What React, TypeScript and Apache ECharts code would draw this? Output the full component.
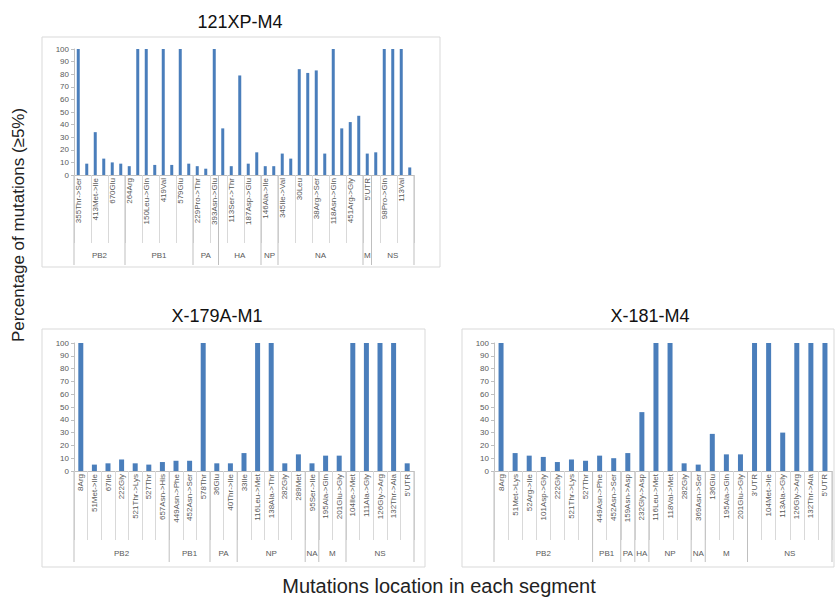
import React, { useEffect, useRef } from "react";
import * as echarts from "echarts";

// ---------- Panel 1: 121XP-M4 ----------
const P1_TITLE = "121XP-M4";
const P1_CATEGORIES = [
  "355Thr->Ser", "398Asp->Glu", "413Met->Ile", "475Leu->Met", "670Glu", "702Lys->Arg",
  "264Arg", "111Ile", "150Leu->Gln", "375Ser->Asn", "419Val", "517Ile", "579Glu", "584Arg->Gln",
  "229Pro->Thr", "237Glu->Lys", "393Asn->Glu",
  "63Asn->Asp", "113Ser->Thr", "156Lys->Glu", "187Asp->Glu", "222Trp->Leu",
  "146Ala->Ile", "482Asn->Ser",
  "345Ile->Val", "10Ser->Pro", "30Leu", "34Thr->Ile", "38Arg->Ser", "95Ser->Asn", "118Asn->Gln", "344Asn->Ser", "451Arg->Gly", "463Lys->Glu",
  "5'UTR",
  "3'UTR", "98Pro->Gln", "104Asp->Glu", "113Val", "171Asn->Asp",
];
const P1_VALUES = [
  100, 9, 34, 13, 10, 9,
  7, 100, 100, 8, 100, 8, 100, 9,
  7, 5, 100,
  37, 7, 79, 9, 18,
  7, 7,
  17, 13, 84, 81, 83, 17, 100, 37, 42, 47,
  17,
  18, 100, 100, 100, 6,
];
const P1_GROUP_NAMES = ["PB2", "PB1", "PA", "HA", "NP", "NA", "M", "NS"];
const P1_GROUP_SIZES = [6, 8, 3, 5, 2, 10, 1, 5];

// ---------- Panel 2: X-179A-M1 ----------
const P2_TITLE = "X-179A-M1";
const P2_CATEGORIES = [
  "8Arg", "51Met->Ile", "67Ile", "222Gly", "521Thr->Lys", "527Thr", "657Asn->His",
  "449Asn->Phe", "452Asn->Ser", "578Thr",
  "36Glu", "40Thr->Ile",
  "33Ile", "116Leu->Met", "138Ala->Thr", "282Gly", "289Met",
  "95Ser->Ile",
  "195Ala->Gln", "201Glu->Gly",
  "104Ile->Met", "111Ala->Gly", "126Gly->Arg", "132Thr->Ala", "5'UTR",
];
const P2_VALUES = [
  100, 5, 6, 9, 6, 5, 7,
  8, 8, 100,
  6, 6,
  14, 100, 100, 6, 13,
  6,
  12, 12,
  100, 100, 100, 100, 6,
];
const P2_GROUP_NAMES = ["PB2", "PB1", "PA", "NP", "NA", "M", "NS"];
const P2_GROUP_SIZES = [7, 3, 2, 5, 1, 2, 5];

// ---------- Panel 3: X-181-M4 ----------
const P3_TITLE = "X-181-M4";
const P3_CATEGORIES = [
  "8Arg", "51Met->Lys", "52Arg->Ile", "101Asp->Gly", "222Gly", "521Thr->Lys", "527Thr",
  "449Asn->Phe", "452Asn->Ser",
  "159Asn->Asp",
  "232Gly->Asp",
  "116Leu->Met", "118Val->Met", "282Gly",
  "369Asn->Ser",
  "136Glu", "195Ala->Gln", "201Glu->Gly",
  "3'UTR", "104Met->Ile", "113Ala->Gly", "126Gly->Arg", "132Thr->Ala", "5'UTR",
];
const P3_VALUES = [
  100, 14, 12, 11, 7, 9, 8,
  12, 10,
  14,
  46,
  100, 100, 6,
  5,
  29, 13, 13,
  100, 100, 30, 100, 100, 100,
];
const P3_GROUP_NAMES = ["PB2", "PB1", "PA", "HA", "NP", "NA", "M", "NS"];
const P3_GROUP_SIZES = [7, 2, 1, 1, 3, 1, 3, 6];

const Y_TITLE = "Percentage of mutations (≥5%)";
const X_TITLE = "Mutations location in each segment";

const FONT = "'Liberation Sans', Arial, sans-serif";
const BAR_COLOR = "#4a7ebb";
const TEXT_COLOR = "#595959";
const LINE_COLOR = "#bfbfbf";

function groupData(names: string[], sizes: number[]) {
  const out: any[] = [];
  let start = 0;
  names.forEach((n, i) => {
    const end = start + sizes[i];
    out.push({ name: n, value: [start, 0, start, end, i === names.length - 1 ? 1 : 0] });
    start = end;
  });
  return out;
}

function groupRenderer(names: string[], lineLen: number, labelOffset: number) {
  return (params: any, api: any) => {
    const start = api.value(2);
    const end = api.value(3);
    const isLast = api.value(4) === 1;
    const bw = api.size([1, 0])[0];
    const p0 = api.coord([start, 0]);
    const p1 = api.coord([end - 1, 0]);
    const xL = p0[0] - bw / 2;
    const xR = p1[0] + bw / 2;
    const y0 = p0[1];
    const children: any[] = [
      {
        type: "line",
        shape: { x1: xL, y1: y0, x2: xL, y2: y0 + lineLen },
        style: { stroke: LINE_COLOR, lineWidth: 1 },
      },
      {
        type: "text",
        style: {
          text: names[params.dataIndex],
          x: (xL + xR) / 2,
          y: y0 + labelOffset,
          align: "center",
          verticalAlign: "middle",
          fontSize: 8,
          fontFamily: FONT,
          fill: TEXT_COLOR,
        },
      },
    ];
    if (isLast) {
      children.push({
        type: "line",
        shape: { x1: xR, y1: y0, x2: xR, y2: y0 + lineLen },
        style: { stroke: LINE_COLOR, lineWidth: 1 },
      });
    }
    return { type: "group", children };
  };
}

export default function App() {
  const ref = useRef<HTMLDivElement>(null);
  useEffect(() => {
    document.body.style.margin = "0";
    if (!ref.current) return;
    const chart = echarts.init(ref.current, undefined, { renderer: "svg" });

    const grids = [
      { left: 74, top: 49, width: 340, height: 126 },
      { left: 74, top: 343, width: 340, height: 128 },
      { left: 494, top: 343, width: 338, height: 128 },
    ];
    const panels = [
      { cats: P1_CATEGORIES, vals: P1_VALUES, gn: P1_GROUP_NAMES, gs: P1_GROUP_SIZES, interval: 1, tick: 68, line: 90, lab: 80, barW: 3 },
      { cats: P2_CATEGORIES, vals: P2_VALUES, gn: P2_GROUP_NAMES, gs: P2_GROUP_SIZES, interval: 0, tick: 69, line: 91, lab: 82, barW: 5 },
      { cats: P3_CATEGORIES, vals: P3_VALUES, gn: P3_GROUP_NAMES, gs: P3_GROUP_SIZES, interval: 0, tick: 69, line: 91, lab: 82, barW: 5 },
    ];

    const xAxis = panels.map((p, i) => ({
      type: "category",
      gridIndex: i,
      data: p.cats,
      axisLine: { show: true, lineStyle: { color: LINE_COLOR, width: 1 } },
      axisTick: { show: true, interval: p.interval, length: p.tick, lineStyle: { color: "#d9d9d9" } },
      axisLabel: {
        rotate: 90,
        interval: p.interval,
        fontSize: 8,
        fontFamily: FONT,
        color: TEXT_COLOR,
        margin: 3,
      },
      splitLine: { show: false },
    }));
    const yAxis = panels.map((_, i) => ({
      type: "value",
      gridIndex: i,
      min: 0,
      max: 100,
      interval: 10,
      axisLine: { show: true, lineStyle: { color: LINE_COLOR, width: 1 } },
      axisTick: { show: true, length: 3, lineStyle: { color: LINE_COLOR } },
      axisLabel: { fontSize: 8, fontFamily: FONT, color: TEXT_COLOR, margin: 5 },
      splitLine: { show: false },
    }));
    const series: any[] = [];
    panels.forEach((p, i) => {
      series.push({
        type: "bar",
        xAxisIndex: i,
        yAxisIndex: i,
        data: p.vals,
        barWidth: p.barW,
        itemStyle: { color: BAR_COLOR },
      });
      series.push({
        type: "custom",
        xAxisIndex: i,
        yAxisIndex: i,
        clip: false,
        encode: { x: 0, y: 1 },
        data: groupData(p.gn, p.gs),
        renderItem: groupRenderer(p.gn, p.line, p.lab),
        silent: true,
      });
    });

    const titleStyle = { fontSize: 18, fontWeight: "normal", fontFamily: FONT, color: "#111" };
    chart.setOption({
      animation: false,
      title: [
        { text: P1_TITLE, left: 235, top: 8, textAlign: "center", textStyle: titleStyle },
        { text: P2_TITLE, left: 212, top: 302, textAlign: "center", textStyle: titleStyle },
        { text: P3_TITLE, left: 645, top: 302, textAlign: "center", textStyle: titleStyle },
      ],
      grid: grids,
      xAxis,
      yAxis,
      series,
      graphic: [
        { type: "rect", shape: { x: 42, y: 37, width: 398, height: 230 }, style: { fill: "none", stroke: "#d9d9d9", lineWidth: 1 }, z: -1 },
        { type: "rect", shape: { x: 42, y: 329, width: 383, height: 238 }, style: { fill: "none", stroke: "#d9d9d9", lineWidth: 1 }, z: -1 },
        { type: "rect", shape: { x: 462, y: 329, width: 372, height: 238 }, style: { fill: "none", stroke: "#d9d9d9", lineWidth: 1 }, z: -1 },
        {
          type: "text",
          x: 18,
          y: 225,
          rotation: Math.PI / 2,
          style: { text: Y_TITLE, align: "center", verticalAlign: "middle", fontSize: 17, fontFamily: FONT, fill: "#222" },
        },
        {
          type: "text",
          x: 439,
          y: 586,
          style: { text: X_TITLE, align: "center", verticalAlign: "middle", fontSize: 20, fontFamily: FONT, fill: "#222" },
        },
      ],
    });
    return () => chart.dispose();
  }, []);
  return <div ref={ref} style={{ width: 836, height: 598 }} />;
}
